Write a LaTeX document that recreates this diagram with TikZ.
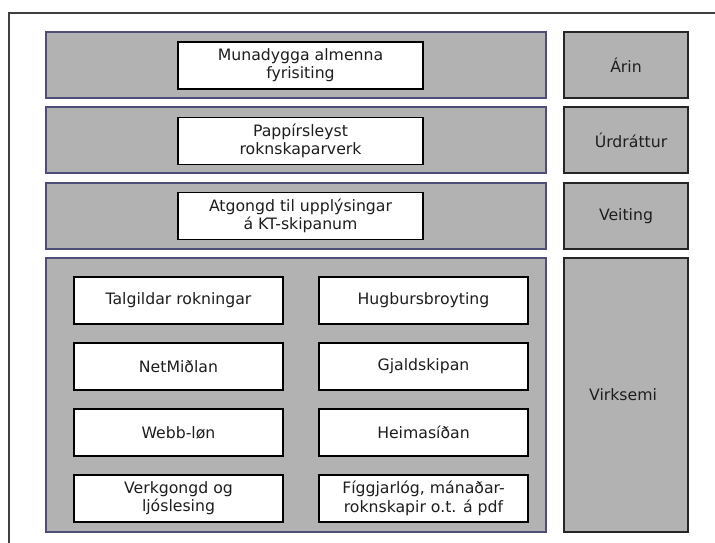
\documentclass[tikz,border=0pt]{standalone}
\usepackage{fontspec}
\setmainfont{DejaVu Sans}
\definecolor{bandfill}{HTML}{B2B2B2}
\definecolor{bandline}{HTML}{4E4E78}
\definecolor{txt}{HTML}{1E1E1E}
\definecolor{frame}{HTML}{404040}
\begin{document}
\begin{tikzpicture}[x=1pt,y=-1pt,
  every node/.style={font=\fontsize{15.7}{18.3}\selectfont, text=txt, inner sep=0pt, align=center},
  band/.style={draw=bandline, line width=1.2pt, fill=bandfill, minimum width=500pt, rectangle},
  sidebox/.style={draw=black!85, line width=1.2pt, fill=bandfill, minimum width=124pt, rectangle},
  wbox/.style={draw=black, line width=1.3pt, fill=white, minimum width=245pt, minimum height=47pt, rectangle},
  gbox/.style={draw=black, line width=1.3pt, fill=white, minimum width=209pt, minimum height=47pt, rectangle}]
\useasboundingbox (0,0) rectangle (715,543);
\coordinate (ftl) at (9,13);
\coordinate (ftr) at (716,13);
\coordinate (fbl) at (9,544);
\draw[frame, line width=1.3pt] (ftr) -- (ftl) -- (fbl);
% bands
\node[band, minimum height=66pt] (b1) at (296,65) {};
\node[band, minimum height=66pt] (b2) at (296,140) {};
\node[band, minimum height=66pt] (b3) at (296,216) {};
\node[band, minimum height=274pt] (b4) at (296,395) {};
% side boxes
\node[sidebox, minimum height=66pt] (s1) at (626,65) {Árin};
\node[sidebox, minimum height=66pt] (s2) at (626,140) {\hspace*{10pt}Úrdráttur};
\node[sidebox, minimum height=66pt] (s3) at (626,216) {Veiting};
\node[sidebox, minimum height=274pt] (s4) at (626,395) {Virksemi\hspace*{6pt}};
% top white boxes
\node[wbox] (t1) at (300.5,65.5) {Munadygga almenna\\fyrisiting};
\node[wbox] (t2) at (300.5,141) {Pappírsleyst\\roknskaparverk};
\node[wbox] (t3) at (300.5,216) {Atgongd til upplýsingar\\á KT-skipanum};
% grid
\node[gbox] (g11) at (178.5,300.5) {Talgildar rokningar};
\node[gbox] (g12) at (423.5,300.5) {Hugbursbroyting};
\node[gbox] (g21) at (178.5,366.5) {NetMiðlan};
\node[gbox] (g22) at (423.5,366.5) {Gjaldskipan};
\node[gbox] (g31) at (178.5,432.5) {Webb-løn};
\node[gbox] (g32) at (423.5,432.5) {Heimasíðan};
\node[gbox] (g41) at (178.5,498.5) {Verkgongd og\\ljóslesing};
\node[gbox] (g42) at (423.5,498.5) {Fíggjarlóg, mánaðar-\\roknskapir o.t. á pdf};
\end{tikzpicture}
\end{document}
